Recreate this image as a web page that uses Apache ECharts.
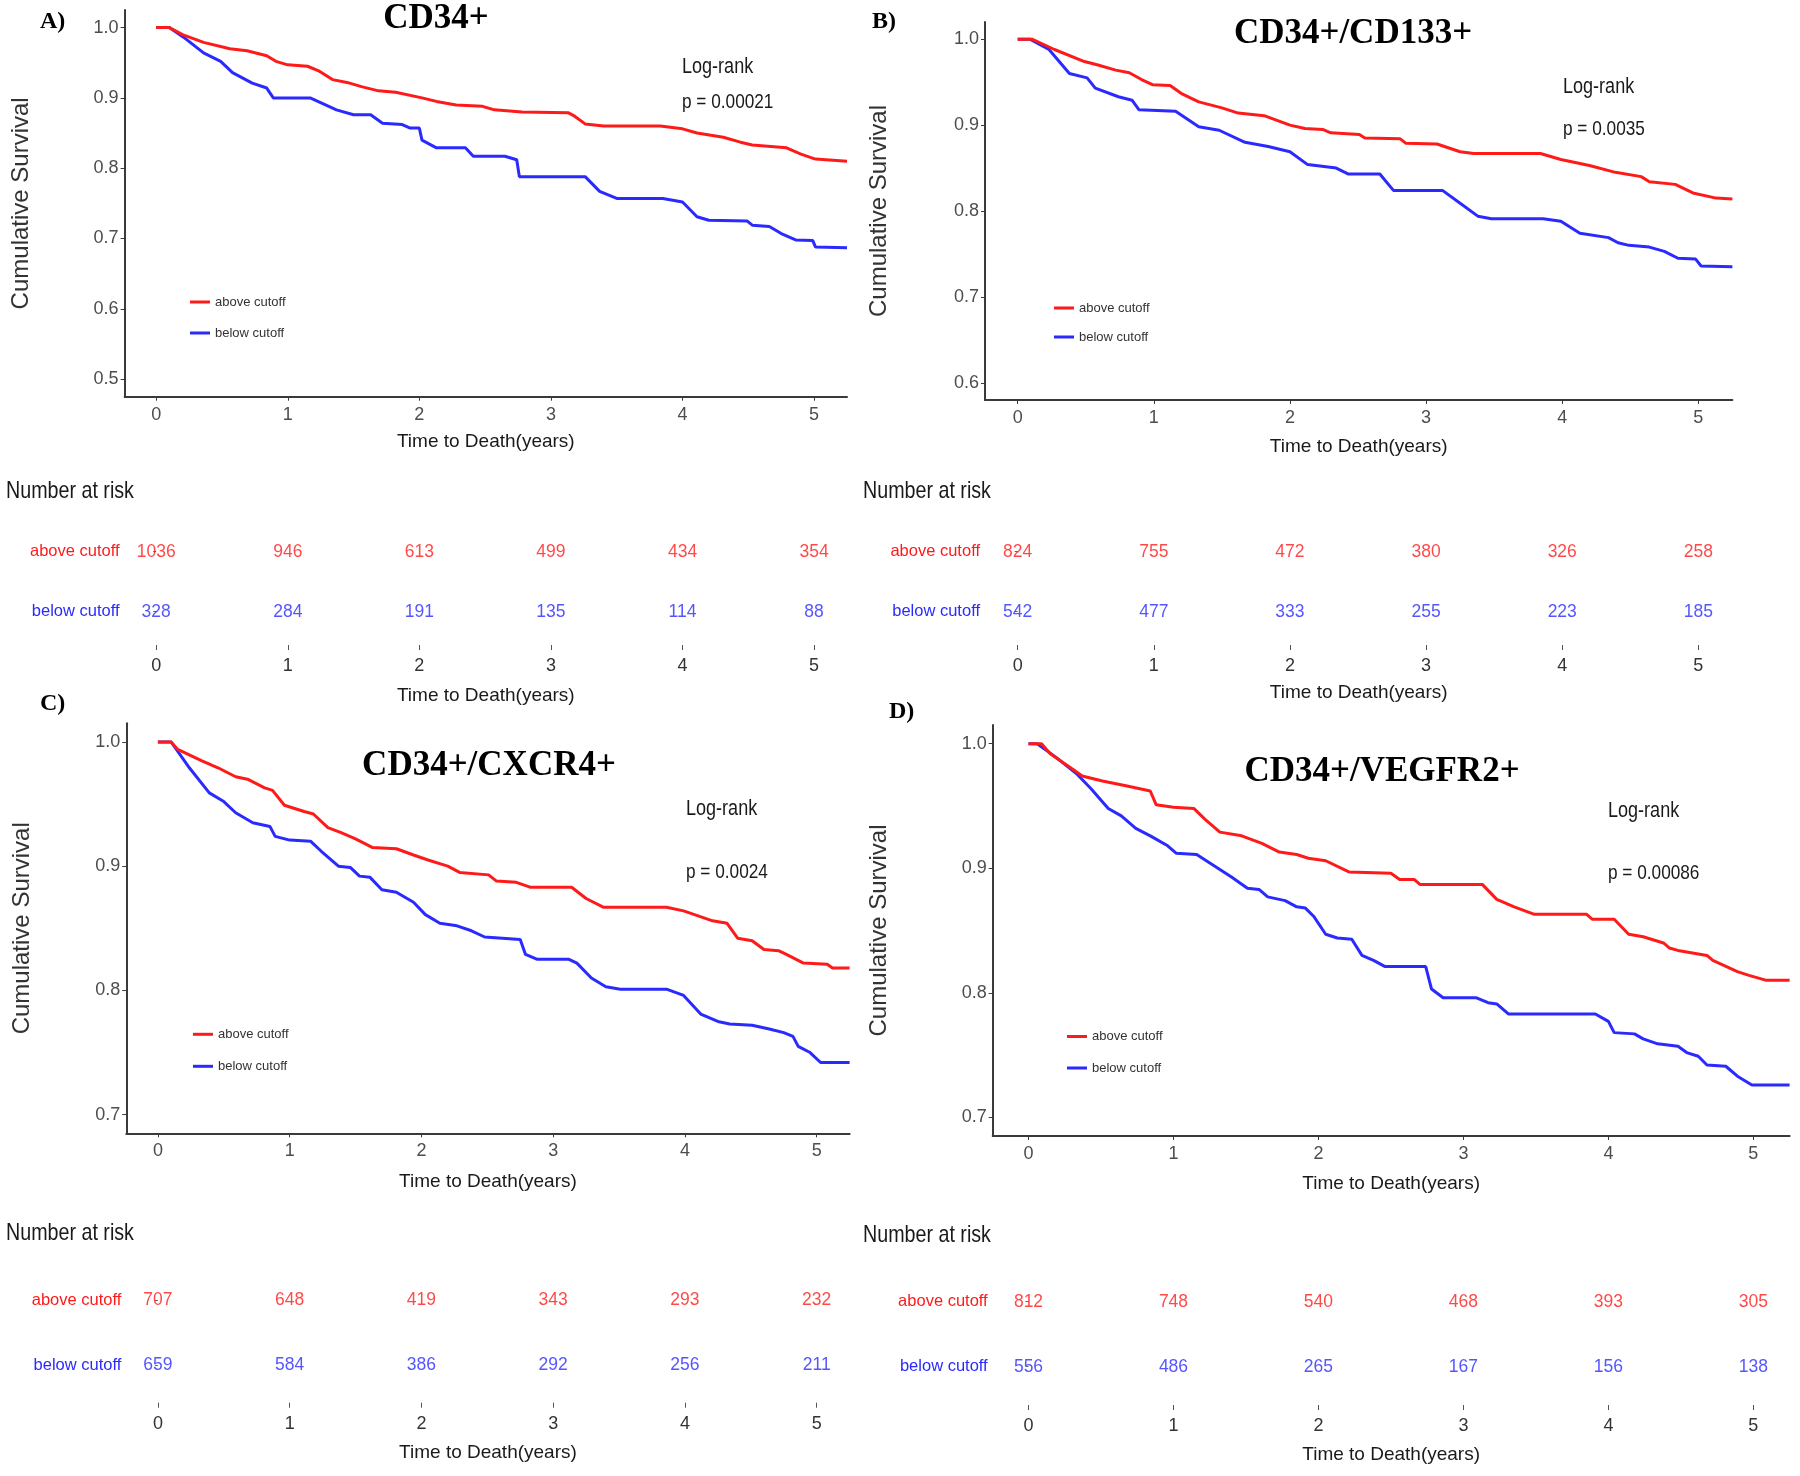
<!DOCTYPE html>
<html><head><meta charset="utf-8">
<script src="https://cdn.jsdelivr.net/npm/echarts@6/dist/echarts.min.js"></script>
<style>html,body{margin:0;padding:0;background:#fff}#c{width:1800px;height:1476px}</style>
</head><body><div id="c"></div>
<script>
const NARROW = "'Liberation Sans Narrow','Arial Narrow','Liberation Sans',sans-serif";
const SERIF = "'Liberation Serif','Times New Roman',serif";
const SANS = "'Liberation Sans',Arial,sans-serif";
const RED = '#ff1a1a', BLUE = '#2a2aff';

// ---------- data ----------
const groups = ['above cutoff', 'below cutoff'];
const tickYears = [0, 1, 2, 3, 4, 5];
const riskYears = [0, 1, 2, 3, 4, 5];

// A) CD34+
const A_above_t = [0,0.1,0.2,0.36,0.56,0.69,0.84,0.91,1.0,1.15,1.24,1.34,1.45,1.56,1.69,1.82,2.02,2.13,2.28,2.48,2.57,2.78,3.13,3.18,3.26,3.40,3.83,4.0,4.11,4.31,4.44,4.53,4.79,4.90,5.01,5.25];
const A_above_s = [1.0,1.0,0.99,0.979,0.970,0.967,0.960,0.952,0.947,0.945,0.938,0.926,0.922,0.916,0.910,0.908,0.900,0.895,0.890,0.888,0.883,0.880,0.879,0.874,0.863,0.860,0.860,0.856,0.850,0.844,0.837,0.833,0.829,0.820,0.813,0.810];
const A_below_t = [0,0.1,0.21,0.36,0.49,0.58,0.73,0.84,0.89,1.17,1.37,1.50,1.63,1.72,1.87,1.93,2.0,2.02,2.13,2.35,2.41,2.65,2.74,2.76,3.26,3.37,3.50,3.85,4.0,4.11,4.20,4.49,4.53,4.66,4.75,4.86,4.99,5.01,5.25];
const A_below_s = [1.0,1.0,0.986,0.964,0.952,0.936,0.921,0.914,0.900,0.900,0.883,0.876,0.876,0.864,0.862,0.857,0.857,0.840,0.829,0.829,0.817,0.817,0.812,0.788,0.788,0.767,0.757,0.757,0.752,0.731,0.726,0.725,0.719,0.717,0.707,0.698,0.697,0.688,0.687];
const A_risk_above = [1036, 946, 613, 499, 434, 354];
const A_risk_below = [328, 284, 191, 135, 114, 88];

// B) CD34+/CD133+
const B_above_t = [0,0.105,0.27,0.49,0.59,0.72,0.82,0.91,0.99,1.12,1.20,1.33,1.50,1.62,1.81,2.0,2.11,2.24,2.30,2.51,2.55,2.81,2.85,3.08,3.25,3.35,3.84,3.99,4.20,4.39,4.58,4.64,4.83,4.96,5.13,5.25];
const B_above_s = [1.0,1.0,0.988,0.974,0.970,0.964,0.961,0.953,0.947,0.946,0.937,0.927,0.920,0.914,0.911,0.900,0.896,0.895,0.891,0.889,0.885,0.884,0.879,0.878,0.869,0.867,0.867,0.860,0.853,0.845,0.840,0.834,0.831,0.821,0.815,0.814];
const B_below_t = [0,0.09,0.23,0.38,0.51,0.57,0.74,0.84,0.89,1.16,1.33,1.48,1.67,1.84,2.0,2.13,2.34,2.43,2.66,2.76,3.12,3.25,3.38,3.48,3.86,3.99,4.13,4.34,4.41,4.49,4.64,4.75,4.85,4.98,5.02,5.25];
const B_below_s = [1.0,1.0,0.988,0.960,0.955,0.943,0.933,0.929,0.918,0.916,0.898,0.894,0.880,0.875,0.869,0.854,0.850,0.843,0.843,0.824,0.824,0.809,0.794,0.791,0.791,0.788,0.774,0.769,0.763,0.760,0.758,0.753,0.745,0.744,0.736,0.735];
const B_risk_above = [824, 755, 472, 380, 326, 258];
const B_risk_below = [542, 477, 333, 255, 223, 185];

// C) CD34+/CXCR4+
const C_above_t = [0,0.1,0.15,0.33,0.46,0.59,0.68,0.81,0.87,0.96,1.11,1.18,1.29,1.39,1.50,1.63,1.81,1.94,2.05,2.20,2.29,2.51,2.57,2.72,2.83,3.14,3.25,3.38,3.86,3.99,4.10,4.21,4.32,4.40,4.51,4.60,4.71,4.77,4.90,5.08,5.12,5.25];
const C_above_s = [1.0,1.0,0.994,0.985,0.979,0.972,0.970,0.963,0.961,0.949,0.944,0.942,0.931,0.927,0.922,0.915,0.914,0.909,0.905,0.900,0.895,0.893,0.888,0.887,0.883,0.883,0.874,0.867,0.867,0.864,0.860,0.856,0.854,0.842,0.840,0.833,0.832,0.829,0.822,0.821,0.818,0.818];
const C_below_t = [0,0.1,0.24,0.39,0.50,0.59,0.72,0.85,0.89,1.00,1.16,1.24,1.37,1.46,1.53,1.61,1.70,1.81,1.94,2.03,2.14,2.27,2.38,2.48,2.75,2.79,2.88,3.12,3.18,3.29,3.40,3.51,3.86,3.99,4.12,4.25,4.34,4.51,4.64,4.75,4.82,4.86,4.95,5.03,5.25];
const C_below_s = [1.0,1.0,0.979,0.959,0.952,0.943,0.935,0.932,0.924,0.921,0.920,0.912,0.900,0.899,0.892,0.891,0.881,0.879,0.871,0.861,0.854,0.852,0.848,0.843,0.841,0.829,0.825,0.825,0.822,0.810,0.803,0.801,0.801,0.796,0.781,0.775,0.773,0.772,0.769,0.766,0.763,0.755,0.750,0.742,0.742];
const C_risk_above = [707, 648, 419, 343, 293, 232];
const C_risk_below = [659, 584, 386, 292, 256, 211];

// D) CD34+/VEGFR2+
const D_above_t = [0,0.09,0.15,0.31,0.37,0.51,0.68,0.84,0.88,1.0,1.14,1.22,1.32,1.47,1.61,1.73,1.85,1.93,2.05,2.21,2.50,2.56,2.66,2.70,3.13,3.23,3.35,3.49,3.85,3.89,4.04,4.14,4.24,4.38,4.42,4.48,4.68,4.72,4.89,4.97,5.09,5.25];
const D_above_s = [1.0,1.0,0.992,0.979,0.974,0.970,0.966,0.962,0.951,0.949,0.948,0.939,0.929,0.926,0.920,0.913,0.911,0.908,0.906,0.897,0.896,0.891,0.891,0.887,0.887,0.875,0.869,0.863,0.863,0.859,0.859,0.847,0.845,0.840,0.836,0.834,0.830,0.826,0.817,0.814,0.810,0.810];
const D_below_t = [0,0.06,0.19,0.33,0.43,0.55,0.64,0.74,0.84,0.96,1.02,1.16,1.24,1.40,1.51,1.59,1.65,1.77,1.85,1.91,1.97,2.05,2.13,2.23,2.30,2.38,2.46,2.74,2.78,2.86,3.09,3.17,3.23,3.31,3.91,4.0,4.04,4.18,4.24,4.34,4.48,4.54,4.62,4.68,4.81,4.89,4.99,5.25];
const D_below_s = [1.0,1.0,0.989,0.976,0.964,0.948,0.942,0.932,0.926,0.918,0.912,0.911,0.905,0.893,0.884,0.883,0.877,0.874,0.869,0.868,0.861,0.847,0.844,0.843,0.830,0.826,0.821,0.821,0.803,0.796,0.796,0.792,0.791,0.783,0.783,0.777,0.768,0.767,0.763,0.759,0.757,0.752,0.749,0.742,0.741,0.733,0.726,0.726];
const D_risk_above = [812, 748, 540, 468, 393, 305];
const D_risk_below = [556, 486, 265, 167, 156, 138];

const panelTitles = ['CD34+', 'CD34+/CD133+', 'CD34+/CXCR4+', 'CD34+/VEGFR2+'];
const panelLetters = ['A)', 'B)', 'C)', 'D)'];
const pValues = ['p = 0.00021', 'p = 0.0035', 'p = 0.0024', 'p = 0.00086'];
const yTickValues = [
  [0.5, 0.6, 0.7, 0.8, 0.9, 1.0],
  [0.6, 0.7, 0.8, 0.9, 1.0],
  [0.7, 0.8, 0.9, 1.0],
  [0.7, 0.8, 0.9, 1.0]
];
const curves = [
  [[A_above_t, A_above_s], [A_below_t, A_below_s]],
  [[B_above_t, B_above_s], [B_below_t, B_below_s]],
  [[C_above_t, C_above_s], [C_below_t, C_below_s]],
  [[D_above_t, D_above_s], [D_below_t, D_below_s]]
];
const risks = [
  [A_risk_above, A_risk_below],
  [B_risk_above, B_risk_below],
  [C_risk_above, C_risk_below],
  [D_risk_above, D_risk_below]
];

// ---------- layout (pixels) ----------
const layout = [
  { plot:{left:124.6, top:10, width:722.4, height:386.7}, x:[-0.24,5.25], y:[0.475,1.025], yGap:91, xGap:36,
    risk:{left:124.6, top:551.7, width:722.4, height:60}, rOff:33.3, rGap:41,
    legend:{left:185, top:290.5, gap:18}, title:[436,19], letter:[40,10], lr:[682,67], p:[682,102], nar:[6,491.7] },
  { plot:{left:985, top:22, width:747.4, height:378}, x:[-0.24,5.25], y:[0.58,1.02], yGap:94, xGap:37,
    risk:{left:985, top:551.7, width:747.4, height:60}, rOff:33.3, rGap:38,
    legend:{left:1049, top:296.5, gap:16}, title:[1353,34], letter:[872,10], lr:[1563,87], p:[1563,129], nar:[863,491.7] },
  { plot:{left:126.3, top:723.3, width:723.3, height:410}, x:[-0.24,5.25], y:[0.685,1.015], yGap:92, xGap:39,
    risk:{left:126.3, top:1300, width:723.3, height:65}, rOff:37.7, rGap:40.5,
    legend:{left:188, top:1022.8, gap:19}, title:[489,766], letter:[40,692], lr:[686,809], p:[686,872], nar:[6,1233.3] },
  { plot:{left:992.7, top:725, width:796.9, height:411}, x:[-0.247,5.25], y:[0.685,1.015], yGap:101, xGap:38.5,
    risk:{left:992.7, top:1301.7, width:796.9, height:65}, rOff:38.3, rGap:40,
    legend:{left:1062, top:1025, gap:18.5}, title:[1382,772], letter:[889,700], lr:[1608,811], p:[1608,873], nar:[863,1235] }
];

const colors = [RED, BLUE];
const grid = [], xAxis = [], yAxis = [], series = [], legend = [], graphic = [];

layout.forEach((L, i) => {
  grid.push({ left:L.plot.left, top:L.plot.top, width:L.plot.width, height:L.plot.height, containLabel:false });
  xAxis.push({
    type:'value', gridIndex:i, min:L.x[0], max:L.x[1],
    axisLine:{ show:true, onZero:false, lineStyle:{ color:'#3a3a3a', width:2 } },
    axisTick:{ show:true, length:4, customValues:tickYears, lineStyle:{ color:'#3a3a3a' } },
    axisLabel:{ customValues:tickYears, formatter:v => String(Math.round(v)), color:'#4d4d4d', fontSize:18, fontFamily:NARROW, margin:9 },
    splitLine:{ show:false },
    name:'Time to Death(years)', nameLocation:'middle', nameGap:L.xGap,
    nameTextStyle:{ fontSize:19, fontFamily:NARROW, color:'#1a1a1a' }
  });
  yAxis.push({
    type:'value', gridIndex:i, min:L.y[0], max:L.y[1],
    axisLine:{ show:true, onZero:false, lineStyle:{ color:'#3a3a3a', width:2 } },
    axisTick:{ show:true, length:4, customValues:yTickValues[i], lineStyle:{ color:'#3a3a3a' } },
    axisLabel:{ customValues:yTickValues[i], formatter:v => v.toFixed(1), color:'#4d4d4d', fontSize:18, fontFamily:NARROW, margin:6 },
    splitLine:{ show:false },
    name:'Cumulative Survival', nameLocation:'middle', nameGap:L.yGap, nameRotate:90,
    nameTextStyle:{ fontSize:24, fontFamily:SANS, color:'#333' }
  });
  curves[i].forEach((c, g) => {
    series.push({
      type:'line', name:groups[g], xAxisIndex:i, yAxisIndex:i,
      data:c[0].map((t, k) => [t, c[1][k]]),
      showSymbol:false, symbol:'none', silent:true,
      lineStyle:{ color:colors[g], width:3 }, itemStyle:{ color:colors[g] },
      z: 3 - g
    });
  });
  legend.push({
    data:groups, left:L.legend.left, top:L.legend.top, orient:'vertical',
    itemGap:L.legend.gap, itemWidth:20, itemHeight:3, icon:'rect',
    textStyle:{ fontSize:13, fontFamily:NARROW, color:'#333' }, selectedMode:false
  });
});

layout.forEach((L, i) => {
  const gi = 4 + i;
  grid.push({ left:L.risk.left, top:L.risk.top, width:L.risk.width, height:L.risk.height, containLabel:false });
  xAxis.push({
    type:'value', gridIndex:gi, min:L.x[0], max:L.x[1], position:'bottom', offset:L.rOff,
    axisLine:{ show:false },
    axisTick:{ show:true, length:5, customValues:tickYears, lineStyle:{ color:'#555' } },
    axisLabel:{ customValues:tickYears, formatter:v => String(Math.round(v)), color:'#333', fontSize:18, fontFamily:NARROW, margin:12 },
    splitLine:{ show:false },
    name:'Time to Death(years)', nameLocation:'middle', nameGap:L.rGap,
    nameTextStyle:{ fontSize:19, fontFamily:NARROW, color:'#1a1a1a' }
  });
  yAxis.push({
    type:'category', gridIndex:gi, data:['below cutoff', 'above cutoff'], boundaryGap:false,
    axisLine:{ show:false },
    axisTick:{ show:true, length:3, lineStyle:{ color:'#666' } },
    axisLabel:{ color:v => (v === 'above cutoff' ? RED : BLUE), fontSize:16.5, fontFamily:NARROW, margin:5 },
    splitLine:{ show:false }
  });
  risks[i].forEach((arr, g) => {
    series.push({
      type:'scatter', name:'risk ' + groups[g] + ' ' + i, xAxisIndex:gi, yAxisIndex:gi,
      data:riskYears.map((t, k) => [t, groups[g], arr[k]]),
      symbolSize:0, silent:true,
      label:{ show:true, position:'inside', formatter:p => String(p.value[2]), color:colors[g], fontSize:17.5, fontFamily:NARROW }
    });
  });

  const sx = 0.82;
  graphic.push(
    { type:'text', x:L.title[0], y:L.title[1], style:{ text:panelTitles[i], font:'bold 35px ' + SERIF, fill:'#000', textAlign:'center', textVerticalAlign:'middle' } },
    { type:'text', x:L.letter[0], y:L.letter[1], style:{ text:panelLetters[i], font:'bold 24px ' + SERIF, fill:'#000', textAlign:'left', textVerticalAlign:'top' } },
    { type:'text', x:L.lr[0], y:L.lr[1], scaleX:sx, style:{ text:'Log-rank', font:'22px ' + NARROW, fill:'#1a1a1a', textAlign:'left', textVerticalAlign:'middle' } },
    { type:'text', x:L.p[0], y:L.p[1], scaleX:sx, style:{ text:pValues[i], font:'21px ' + NARROW, fill:'#1a1a1a', textAlign:'left', textVerticalAlign:'middle' } },
    { type:'text', x:L.nar[0], y:L.nar[1], scaleX:sx, style:{ text:'Number at risk', font:'24px ' + NARROW, fill:'#1a1a1a', textAlign:'left', textVerticalAlign:'middle' } }
  );
});

const chart = echarts.init(document.getElementById('c'), null, { renderer:'canvas' });
chart.setOption({
  animation:false, backgroundColor:'#fff',
  grid, xAxis, yAxis, series, legend, graphic
});
</script></body></html>
